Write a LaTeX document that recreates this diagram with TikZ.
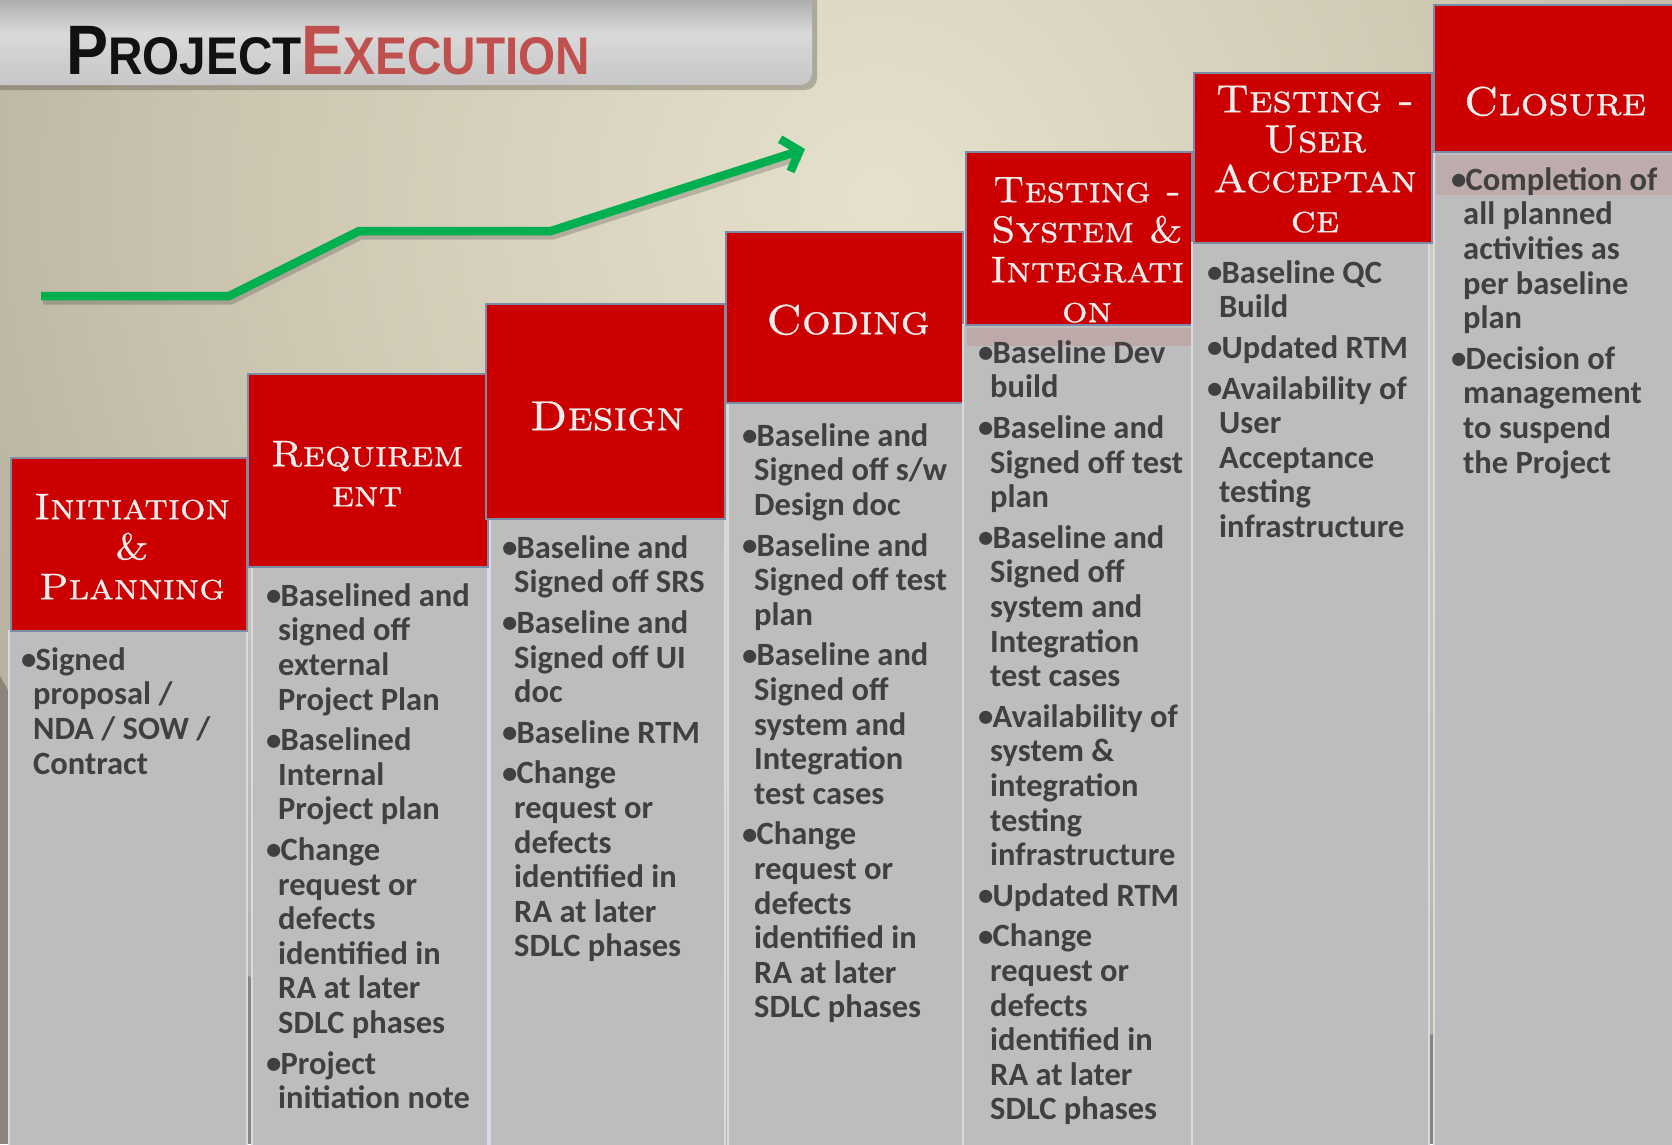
\documentclass[tikz,border=0pt]{standalone}
\usepackage{fontspec}
\usetikzlibrary{arrows.meta}
\newfontfamily\bodyfont{Carlito}
\newfontfamily\ttlfont{Liberation Sans}[FakeStretch=0.9]
\newfontfamily\hdfont{lmromancaps10-regular.otf}[FakeStretch=1.08, FakeBold=0.8]
\definecolor{redhd}{HTML}{CC0000}
\definecolor{redbd}{HTML}{7E8BA6}
\definecolor{graybd}{HTML}{BDBDBD}
\definecolor{graybdr}{HTML}{D6DAE2}
\definecolor{txtgray}{HTML}{404040}
\definecolor{hdtxt}{HTML}{EEEEEE}
\definecolor{ttlred}{HTML}{C0504D}
\definecolor{ttlblack}{HTML}{111111}
\definecolor{arrgreen}{HTML}{00B050}
\definecolor{bgin}{HTML}{E6E1CD}
\definecolor{bgmid}{HTML}{CEC8B3}
\definecolor{bgo}{HTML}{9D9989}
\definecolor{bgout}{HTML}{8A877A}
\pgfdeclareradialshading{bgshade}{\pgfpoint{0bp}{0bp}}{color(0bp)=(bgin); color(15bp)=(bgmid); color(37bp)=(bgo); color(50bp)=(bgout)}
\newcommand{\myind}{\hspace*{12pt}}
\newcommand{\bul}{\makebox[14.5pt][l]{\hspace{0pt}\raisebox{0.6pt}{\scalebox{0.95}{•}}}}
\tikzset{
  redbox/.style={fill=redhd, draw=redbd, line width=1.2pt},
  graybox/.style={fill=graybd, draw=graybdr, line width=1.2pt},
  hdtext/.style={anchor=north, inner sep=0pt, align=center, text=hdtxt,
     font=\hdfont\fontsize{37}{40}\selectfont},
  bodytext/.style={anchor=north west, inner sep=0pt, align=left, text=txtgray,
     font=\bodyfont\bfseries\fontsize{32.5}{34.6}\selectfont},
  greenline/.style={draw=arrgreen, line width=8.5pt,
     -{Straight Barb[length=15pt, width=34pt]}},
}
\begin{document}
\begin{tikzpicture}[x=1pt,y=-1pt]
\useasboundingbox (0,0) rectangle (1672,1144);
% background
\begin{scope}
  \clip (0,0) rectangle (1672,1144);
  \fill[bgout] (0,0) rectangle (1672,1144);
  \shade[shading=bgshade] (880,200) circle (1000);
\end{scope}
% title bar
\fill[black, opacity=0.22, rounded corners=12pt] (-20,-20) rectangle (817,90);
\shade[top color=black!42, bottom color=black!22, middle color=black!15, rounded corners=12pt] (-20,-20) rectangle (812,85);
\node[anchor=base west, inner sep=0pt] (title) at (66,74.5)
  {\ttlfont\bfseries\color{ttlblack}\fontsize{70}{70}\selectfont P\fontsize{53}{53}\selectfont ROJECT\color{ttlred}\fontsize{70}{70}\selectfont E\fontsize{53}{53}\selectfont XECUTION};
% green arrow
\coordinate (g0) at (41,296);
\coordinate (g1) at (229,296);
\coordinate (g2) at (359,231);
\coordinate (g3) at (551,231);
\coordinate (g4) at (805,149);
\coordinate (s0) at (43,300);
\coordinate (s1) at (231,300);
\coordinate (s2) at (361,235);
\coordinate (s3) at (553,235);
\coordinate (s4) at (800,156);
\draw[black, opacity=0.18, line width=9pt] (s0) -- (s1) -- (s2) -- (s3) -- (s4);
\draw[greenline] (g0) -- (g1) -- (g2) -- (g3) -- (g4);
% column 1
\path[graybox] (9,631) rectangle (247,1150);
\path[redbox] (11,458) rectangle (247,631);
% column 2
\path[graybox] (252,567) rectangle (488,1150);
\path[redbox] (248,374) rectangle (488,567);
% column 3
\path[graybox] (490,519) rectangle (725,1150);
\path[redbox] (486,304) rectangle (725,519);
% column 4
\path[graybox] (728,403) rectangle (963,1150);
\path[redbox] (726,232) rectangle (963,403);
% column 5
\path[graybox] (963,325) rectangle (1192,1150);
\path[redbox] (966,152) rectangle (1192,325);
\fill[redhd, opacity=0.1] (967,328) rectangle (1203,346);
% column 6
\path[graybox] (1192,243) rectangle (1429,1150);
\path[redbox] (1194,73) rectangle (1432,243);
% column 7
\path[graybox] (1434,152) rectangle (1680,1150);
\path[redbox] (1434,5) rectangle (1680,152);
\fill[redhd, opacity=0.09] (1436,155) rectangle (1672,195);
% headers
\node[hdtext] (h1) at (132,489) {\rule{0pt}{30pt}Initiation\\ \&\\ Planning};
\node[hdtext] (h2) at (367,436) {\rule{0pt}{30pt}Requirem\\ ent};
\node[hdtext, font=\hdfont\fontsize{42}{44}\selectfont] (h3) at (607,396) {\rule{0pt}{34pt}Design};
\node[hdtext, font=\hdfont\fontsize{42}{44}\selectfont] (h4) at (848,300) {\rule{0pt}{34pt}Coding};
\node[hdtext] (h5) at (1087,172) {\rule{0pt}{30pt}Testing -\\ System \&\\ Integrati\\ on};
\node[hdtext, font=\hdfont\fontsize{39}{40}\selectfont] (h6) at (1315,82) {\rule{0pt}{30pt}Testing -\\ User\\ Acceptan\\ ce};
\node[hdtext, font=\hdfont\fontsize{40.5}{42}\selectfont] (h7) at (1555,85) {\rule{0pt}{30pt}Closure};
% bodies
\node[bodytext] (b1) at (21,646) {\rule{0pt}{24pt}\bul Signed\\ \myind proposal /\\ \myind NDA / SOW /\\ \myind Contract};
\node[bodytext] (b2) at (266,582) {\rule{0pt}{24pt}\bul Baselined and\\ \myind signed off\\ \myind external\\ \myind Project Plan\\[6pt]
\bul Baselined\\ \myind Internal\\ \myind Project plan\\[6pt]
\bul Change\\ \myind request or\\ \myind defects\\ \myind identified in\\ \myind RA at later\\ \myind SDLC phases\\[6pt]
\bul Project\\ \myind initiation note};
\node[bodytext] (b3) at (502,534) {\rule{0pt}{24pt}\bul Baseline and\\ \myind Signed off SRS\\[6pt]
\bul Baseline and\\ \myind Signed off UI\\ \myind doc\\[6pt]
\bul Baseline RTM\\[6pt]
\bul Change\\ \myind request or\\ \myind defects\\ \myind identified in\\ \myind RA at later\\ \myind SDLC phases};
\node[bodytext] (b4) at (742,422) {\rule{0pt}{24pt}\bul Baseline and\\ \myind Signed off s/w\\ \myind Design doc\\[6pt]
\bul Baseline and\\ \myind Signed off test\\ \myind plan\\[6pt]
\bul Baseline and\\ \myind Signed off\\ \myind system and\\ \myind Integration\\ \myind test cases\\[6pt]
\bul Change\\ \myind request or\\ \myind defects\\ \myind identified in\\ \myind RA at later\\ \myind SDLC phases};
\node[bodytext] (b5) at (978,339) {\rule{0pt}{24pt}\bul Baseline Dev\\ \myind build\\[6pt]
\bul Baseline and\\ \myind Signed off test\\ \myind plan\\[6pt]
\bul Baseline and\\ \myind Signed off\\ \myind system and\\ \myind Integration\\ \myind test cases\\[6pt]
\bul Availability of\\ \myind system \&\\ \myind integration\\ \myind testing\\ \myind infrastructure\\[6pt]
\bul Updated RTM\\[6pt]
\bul Change\\ \myind request or\\ \myind defects\\ \myind identified in\\ \myind RA at later\\ \myind SDLC phases};
\node[bodytext] (b6) at (1207,259) {\rule{0pt}{24pt}\bul Baseline QC\\ \myind Build\\[6pt]
\bul Updated RTM\\[6pt]
\bul Availability of\\ \myind User\\ \myind Acceptance\\ \myind testing\\ \myind infrastructure};
\node[bodytext] (b7) at (1451,166) {\rule{0pt}{24pt}\bul Completion of\\ \myind all planned\\ \myind activities as\\ \myind per baseline\\ \myind plan\\[6pt]
\bul Decision of\\ \myind management\\ \myind to suspend\\ \myind the Project};
\end{tikzpicture}
\end{document}
